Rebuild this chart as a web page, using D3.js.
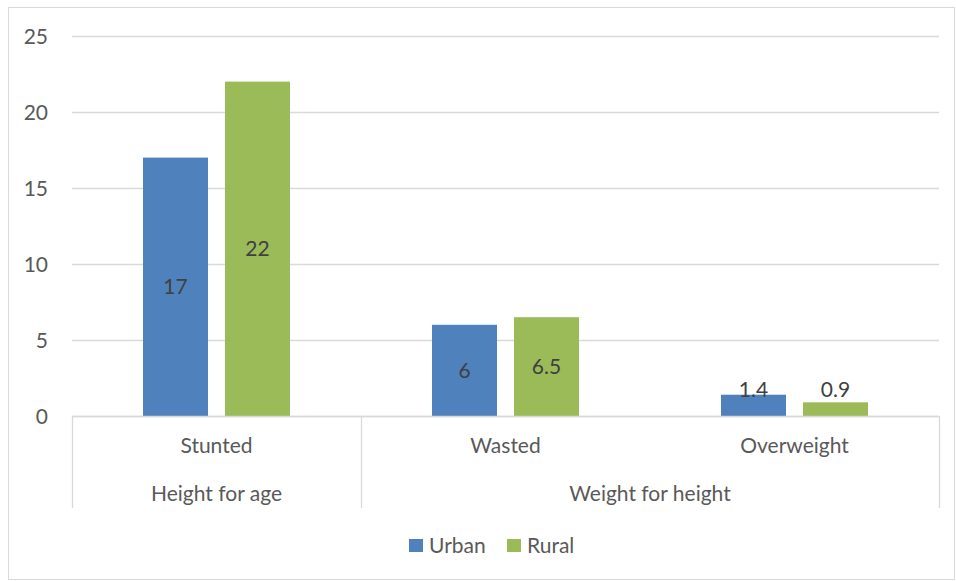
<!DOCTYPE html>
<html><head><meta charset="utf-8">
<script src="https://cdn.jsdelivr.net/npm/d3@7"></script>
<style>body{margin:0;background:#fff}svg{display:block}text{font-family:Lato,"Open Sans",sans-serif}</style>
</head><body>
<svg id="c" width="956" height="581"></svg>
<script>
const categories = ["Stunted", "Wasted", "Overweight"];
const groups = ["Height for age", "Weight for height", "Weight for height"];
const groupNames = ["Height for age", "Weight for height"];
const series = ["Urban", "Rural"];
const urban = [17, 6, 1.4];
const rural = [22, 6.5, 0.9];
const yTicks = [0, 5, 10, 15, 20, 25];
const colors = {Urban: "#4F81BD", Rural: "#9BBB59"};

const FS = "21px";
const svg = d3.select("#c");
const L = 72, R = 939, T = 36, B = 416;

svg.append("rect").attr("x", 8.5).attr("y", 7.5).attr("width", 946).attr("height", 572)
  .attr("fill", "#fff").attr("stroke", "#D9D9D9");

const x = d3.scaleBand().domain(categories).range([L, R]).padding(0);
const xs = d3.scaleBand().domain(series).range([0, x.bandwidth()]).paddingInner(17/82).paddingOuter(0.866);
const y = d3.scaleLinear().domain([0, 25]).range([B, T]);

// gridlines
svg.append("g").selectAll("line").data(yTicks).join("line")
  .attr("x1", L).attr("x2", R).attr("y1", d => Math.round(y(d)) + 0.5).attr("y2", d => Math.round(y(d)) + 0.5)
  .attr("stroke", "#D9D9D9").attr("stroke-width", 1.3);

// y axis labels
const yAxis = d3.axisLeft(y).tickValues(yTicks).tickSize(0).tickPadding(0);
const ga = svg.append("g").attr("transform", `translate(48,0)`).call(yAxis);
ga.select(".domain").remove();
ga.selectAll("text").attr("fill", "#595959").style("font-size", FS).style("font-family", "Lato,'Open Sans',sans-serif").attr("dy", "0.35em");

// bars
const rows = categories.map((c, i) => ({c, Urban: urban[i], Rural: rural[i]}));
const gb = svg.append("g");
rows.forEach(r => {
  series.forEach(s => {
    const x0 = x(r.c) + xs(s);
    gb.append("rect").attr("x", x0).attr("y", y(r[s])).attr("width", xs.bandwidth())
      .attr("height", y(0) - y(r[s])).attr("fill", colors[s]);
    const cy = Math.min((y(r[s]) + y(0)) / 2, y(0) - 26);
    gb.append("text").attr("x", x0 + xs.bandwidth() / 2).attr("y", cy).attr("dy", "0.35em")
      .attr("text-anchor", "middle").attr("fill", "#404040").style("font-size", FS).text(r[s]);
  });
});

// axis line
svg.append("line").attr("x1", L).attr("x2", R).attr("y1", B + 0.5).attr("y2", B + 0.5)
  .attr("stroke", "#D9D9D9").attr("stroke-width", 1.3);

// multi-level category axis
const xAxis = d3.axisBottom(x).tickSize(0).tickPadding(0);
const gx = svg.append("g").attr("transform", `translate(0,${B})`).call(xAxis);
gx.select(".domain").remove();
gx.selectAll("text").attr("y", 30).attr("dy", "0.35em").attr("fill", "#595959")
  .style("font-size", FS).style("font-family", "Lato,'Open Sans',sans-serif");

// group labels and separators
const groupSpans = groupNames.map(g => {
  const idx = categories.map((c, i) => i).filter(i => groups[i] === g);
  return {g, x0: x(categories[idx[0]]), x1: x(categories[idx[idx.length - 1]]) + x.bandwidth()};
});
groupSpans.forEach(s => {
  svg.append("text").attr("x", (s.x0 + s.x1) / 2).attr("y", 494).attr("dy", "0.35em")
    .attr("text-anchor", "middle").attr("fill", "#595959").style("font-size", FS).text(s.g);
});
const seps = [groupSpans[0].x0].concat(groupSpans.map(s => s.x1));
svg.append("g").selectAll("line").data(seps).join("line")
  .attr("x1", d => Math.round(d) + 0.5).attr("x2", d => Math.round(d) + 0.5)
  .attr("y1", B).attr("y2", 508).attr("stroke", "#D9D9D9").attr("stroke-width", 1.3);

// legend
const leg = svg.append("g");
const legX = [409, 507];
series.forEach((s, i) => {
  leg.append("rect").attr("x", legX[i]).attr("y", 539).attr("width", 14).attr("height", 13).attr("fill", colors[s]);
  leg.append("text").attr("x", legX[i] + 20).attr("y", 545.5).attr("dy", "0.35em")
    .attr("fill", "#595959").style("font-size", FS).text(s);
});
</script>
</body></html>
